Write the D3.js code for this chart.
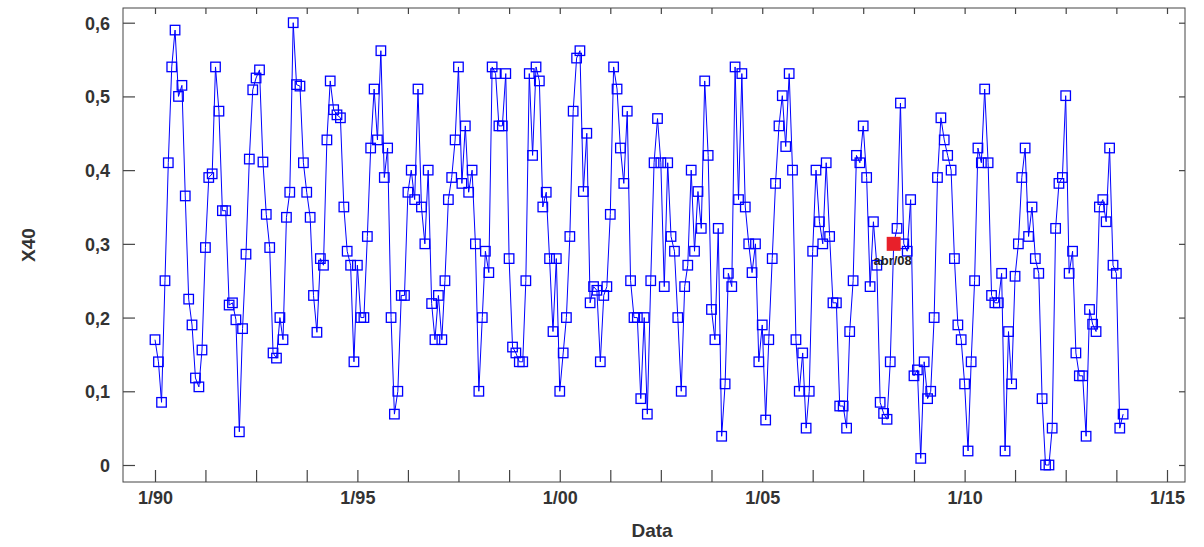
<!DOCTYPE html>
<html><head><meta charset="utf-8">
<script src="https://cdn.jsdelivr.net/npm/d3@7"></script>
<style>body{margin:0;background:#fff}svg{display:block}</style>
</head><body>
<svg id="c" width="1204" height="547"></svg>
<script>
// Monthly series X40, Jan 1990 .. Dec 2013 (one row per year)
const startYear = 1990;
const x40 = [
  0.17, 0.14, 0.085, 0.25, 0.41, 0.54, 0.59, 0.50, 0.515, 0.365, 0.225, 0.19,
  0.118, 0.106, 0.156, 0.295, 0.39, 0.395, 0.54, 0.48, 0.345, 0.345, 0.217, 0.22,
  0.197, 0.045, 0.185, 0.286, 0.415, 0.509, 0.525, 0.536, 0.411, 0.34, 0.295, 0.152,
  0.145, 0.2, 0.17, 0.336, 0.37, 0.6, 0.516, 0.514, 0.41, 0.37, 0.336, 0.23,
  0.18, 0.28, 0.271, 0.441, 0.521, 0.482, 0.475, 0.471, 0.35, 0.29, 0.271, 0.14,
  0.271, 0.2, 0.2, 0.31, 0.43, 0.51, 0.441, 0.562, 0.39, 0.43, 0.2, 0.069,
  0.1, 0.23, 0.23, 0.37, 0.40, 0.36, 0.51, 0.35, 0.3, 0.4, 0.219, 0.17,
  0.23, 0.17, 0.25, 0.36, 0.39, 0.441, 0.54, 0.382, 0.46, 0.37, 0.4, 0.3,
  0.1, 0.2, 0.29, 0.261, 0.54, 0.531, 0.46, 0.46, 0.531, 0.28, 0.16, 0.152,
  0.14, 0.14, 0.25, 0.531, 0.42, 0.54, 0.521, 0.35, 0.37, 0.28, 0.181, 0.28,
  0.1, 0.152, 0.2, 0.31, 0.48, 0.552, 0.562, 0.371, 0.45, 0.22, 0.242, 0.237,
  0.14, 0.23, 0.242, 0.34, 0.54, 0.51, 0.43, 0.382, 0.48, 0.25, 0.2, 0.2,
  0.09, 0.2, 0.069, 0.25, 0.41, 0.47, 0.41, 0.242, 0.41, 0.31, 0.29, 0.2,
  0.1, 0.242, 0.271, 0.4, 0.29, 0.371, 0.321, 0.521, 0.42, 0.211, 0.17, 0.321,
  0.039, 0.11, 0.26, 0.242, 0.54, 0.36, 0.531, 0.35, 0.3, 0.261, 0.3, 0.14,
  0.19, 0.061, 0.17, 0.28, 0.382, 0.46, 0.501, 0.432, 0.531, 0.4, 0.17, 0.1,
  0.152, 0.05, 0.1, 0.29, 0.4, 0.33, 0.3, 0.41, 0.31, 0.22, 0.22, 0.08,
  0.08, 0.05, 0.181, 0.25, 0.42, 0.41, 0.46, 0.39, 0.242, 0.33, 0.271, 0.085,
  0.07, 0.062, 0.14, 0.30, 0.321, 0.491, 0.3, 0.29, 0.36, 0.121, 0.129, 0.009,
  0.14, 0.09, 0.1, 0.2, 0.39, 0.471, 0.441, 0.42, 0.4, 0.28, 0.19, 0.17,
  0.11, 0.019, 0.14, 0.25, 0.43, 0.41, 0.51, 0.41, 0.23, 0.22, 0.22, 0.26,
  0.019, 0.181, 0.11, 0.256, 0.3, 0.39, 0.43, 0.31, 0.35, 0.28, 0.26, 0.09,
  0.0, 0.0, 0.05, 0.321, 0.382, 0.39, 0.501, 0.26, 0.29, 0.152, 0.121, 0.121,
  0.039, 0.211, 0.191, 0.181, 0.35, 0.36, 0.33, 0.43, 0.271, 0.26, 0.05, 0.069
];
const xTickLabels = ["1/90", "1/95", "1/00", "1/05", "1/10", "1/15"];
const yTickValues = [0, 0.1, 0.2, 0.3, 0.4, 0.5, 0.6];
const yTickLabels = ["0", "0,1", "0,2", "0,3", "0,4", "0,5", "0,6"];
const highlightIndex = 219;          // April 2008
const highlightLabel = "abr/08";
const yTitle = "X40";
const xTitle = "Data";

const svg = d3.select("#c");
const L = 123, R = 1185, T = 8, B = 482;

const dates = x40.map((v, i) => new Date(Date.UTC(startYear, i, 1)));
const data = x40.map((v, i) => ({ date: dates[i], v }));

const x = d3.scaleUtc()
  .domain([new Date(Date.UTC(1990, 0, 1)), new Date(Date.UTC(2015, 0, 1))])
  .range([155, 1167]);
const y = d3.scaleLinear().domain([0, 0.6]).range([465, 22.7]);

const font = "Arial, 'Liberation Sans', sans-serif";
const axisColor = "#444";

// frame
svg.append("rect").attr("x", L).attr("y", T).attr("width", R - L).attr("height", B - T)
  .attr("fill", "none").attr("stroke", axisColor).attr("stroke-width", 1);

// x ticks every 15 months, labels every 60 months
const xTickDates = d3.range(0, 301, 15).map(m => new Date(Date.UTC(1990, m, 1)));
const labelFor = d => {
  const m = (d.getUTCFullYear() - 1990) * 12 + d.getUTCMonth();
  return m % 60 === 0 ? xTickLabels[m / 60] : "";
};
const xAxisB = d3.axisBottom(x).tickValues(xTickDates).tickSizeInner(-12).tickSizeOuter(0).tickPadding(9).tickFormat(labelFor);
const gxb = svg.append("g").attr("transform", `translate(0,${B})`).call(xAxisB);
const xAxisT = d3.axisTop(x).tickValues(xTickDates).tickSizeInner(-6).tickSizeOuter(0).tickFormat("");
const gxt = svg.append("g").attr("transform", `translate(0,${T})`).call(xAxisT);

const yAxisL = d3.axisLeft(y).tickValues(yTickValues).tickSizeInner(-12).tickSizeOuter(0).tickPadding(13)
  .tickFormat((d, i) => yTickLabels[i]);
const gyl = svg.append("g").attr("transform", `translate(${L},0)`).call(yAxisL);
const yAxisR = d3.axisRight(y).tickValues(yTickValues).tickSizeInner(-6).tickSizeOuter(0).tickFormat("");
const gyr = svg.append("g").attr("transform", `translate(${R},0)`).call(yAxisR);

[gxb, gxt, gyl, gyr].forEach(g => {
  g.select(".domain").remove();
  g.selectAll("line").attr("stroke", axisColor).attr("stroke-width", 1.2);
  g.selectAll("text").attr("fill", "#333").style("font-family", font)
    .style("font-size", "18px").style("font-weight", "bold");
});
gyl.selectAll("text").attr("dy", "0.36em");

// titles
svg.append("text").attr("x", 652).attr("y", 537).attr("text-anchor", "middle")
  .style("font-family", font).style("font-size", "19px").style("font-weight", "bold")
  .attr("fill", "#333").text(xTitle);
svg.append("text").attr("transform", `translate(35,245) rotate(-90)`).attr("text-anchor", "middle")
  .style("font-family", font).style("font-size", "19px").style("font-weight", "bold")
  .attr("fill", "#333").text(yTitle);

// line
const line = d3.line().x(d => x(d.date)).y(d => y(d.v));
svg.append("path").datum(data).attr("d", line)
  .attr("fill", "none").attr("stroke", "#0000ff").attr("stroke-width", 1);

// markers
const ms = 9.5;
svg.append("g").selectAll("rect").data(data).join("rect")
  .attr("x", d => x(d.date) - ms / 2).attr("y", d => y(d.v) - ms / 2)
  .attr("width", ms).attr("height", ms)
  .attr("fill", "none").attr("stroke", "#0000ff").attr("stroke-width", 1.3);

// highlighted point
const h = data[highlightIndex];
const hs = 14;
svg.append("rect").attr("x", x(h.date) - hs / 2).attr("y", y(h.v) - hs / 2)
  .attr("width", hs).attr("height", hs).attr("fill", "#e8202a");
svg.append("text").attr("x", x(h.date) - 1).attr("y", y(h.v) + 21).attr("text-anchor", "middle")
  .style("font-family", font).style("font-size", "13px").style("font-weight", "600").attr("fill", "#222")
  .text(highlightLabel);
</script>
</body></html>
